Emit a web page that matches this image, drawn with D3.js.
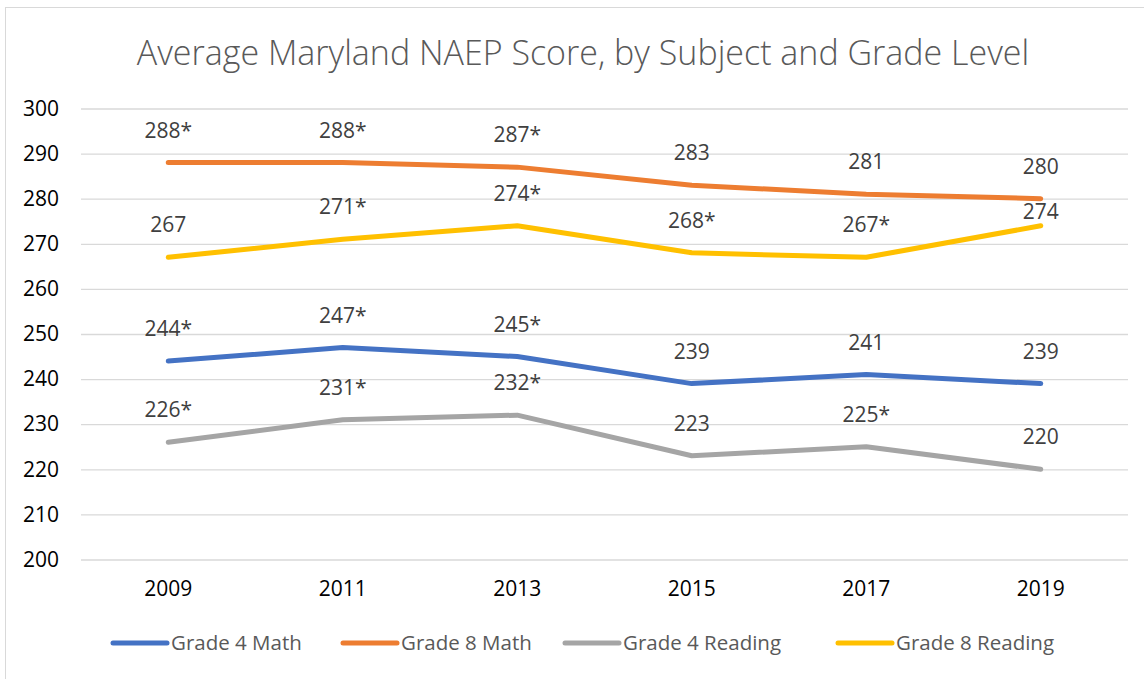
<!DOCTYPE html>
<html>
<head>
<meta charset="utf-8">
<script src="https://cdn.jsdelivr.net/npm/d3@7"></script>
<style>
  body { margin: 0; background: #fff; }
  svg { display: block; font-family: 'Open Sans', sans-serif; }
</style>
</head>
<body>
<svg id="chart" width="1144" height="679"></svg>
<script>
// data
const years = ['2009', '2011', '2013', '2015', '2017', '2019']
const yTicks = [200, 210, 220, 230, 240, 250, 260, 270, 280, 290, 300]

const grade4Math = [244, 247, 245, 239, 241, 239]
const grade8Math = [288, 288, 287, 283, 281, 280]
const grade4Reading = [226, 231, 232, 223, 225, 220]
const grade8Reading = [267, 271, 274, 268, 267, 274]

// the asterisk marks on the data labels
const grade4MathStar = [true, true, true, false, false, false]
const grade8MathStar = [true, true, true, false, false, false]
const grade4ReadingStar = [true, true, true, false, true, false]
const grade8ReadingStar = [false, true, true, true, true, false]

const series = [
  { name: 'Grade 4 Math', values: grade4Math, stars: grade4MathStar, color: '#4472C4' },
  { name: 'Grade 8 Math', values: grade8Math, stars: grade8MathStar, color: '#ED7D31' },
  { name: 'Grade 4 Reading', values: grade4Reading, stars: grade4ReadingStar, color: '#A5A5A5' },
  { name: 'Grade 8 Reading', values: grade8Reading, stars: grade8ReadingStar, color: '#FFC000' }
]

const svg = d3.select('#chart')

// chart border (the picture is cropped on the right)
svg.append('rect')
   .attr('x', 5.5).attr('y', 7.5)
   .attr('width', 1200).attr('height', 700)
   .attr('fill', 'none')
   .attr('stroke', '#D9D9D9')

svg.append('text')
   .attr('x', 583)
   .attr('y', 65)
   .attr('text-anchor', 'middle')
   .attr('fill', '#595959')
   .style('font-size', '34px')
   .style('font-weight', 300)
   .text('Average Maryland NAEP Score, by Subject and Grade Level')

const plot = { left: 81, right: 1128, top: 108.5, bottom: 559.5 }

const x = d3.scaleBand()
            .domain(years)
            .range([plot.left, plot.right])

const y = d3.scaleLinear()
            .domain([200, 300])
            .range([plot.bottom, plot.top])

// gridlines + y labels
const yAxis = d3.axisLeft(y)
                .tickValues(yTicks)
                .tickSize(-(plot.right - plot.left))
                .tickPadding(22)

svg.append('g')
   .attr('transform', `translate(${plot.left},0)`)
   .call(yAxis)
   .call(g => g.select('.domain').remove())
   .call(g => g.selectAll('line').attr('stroke', '#D9D9D9').attr('stroke-width', 1.3))
   .call(g => g.selectAll('text')
               .attr('fill', '#000')
               .style('font-size', '21px')
               .style('font-family', "'Open Sans', sans-serif"))

const xAxis = d3.axisBottom(x).tickSize(0).tickPadding(22)

svg.append('g')
   .attr('transform', `translate(0,${plot.bottom})`)
   .call(xAxis)
   .call(g => g.select('.domain').remove())
   .call(g => g.selectAll('text')
               .attr('fill', '#000')
               .style('font-size', '21px')
               .style('font-family', "'Open Sans', sans-serif"))

const xCenter = yr => x(yr) + x.bandwidth() / 2

const line = d3.line()
               .x((d, i) => xCenter(years[i]))
               .y(d => y(d))

svg.append('g')
   .selectAll('path')
   .data(series)
   .enter()
   .append('path')
   .attr('d', s => line(s.values))
   .attr('fill', 'none')
   .attr('stroke', s => s.color)
   .attr('stroke-width', 5)
   .attr('stroke-linecap', 'round')
   .attr('stroke-linejoin', 'round')

// data labels sit above each point; the last Grade 8 Reading one was pushed
// down in the original so it doesn't collide with the 280 label
const labelGap = (s, i) => (s.name === 'Grade 8 Reading' && i === years.length - 1) ? 7 : 25

const labels = svg.append('g')
   .selectAll('g')
   .data(series)
   .enter()
   .append('g')

labels.selectAll('text')
      .data(s => s.values.map((v, i) => ({ s, v, i })))
      .enter()
      .append('text')
      .attr('x', d => xCenter(years[d.i]))
      .attr('y', d => y(d.v) - labelGap(d.s, d.i))
      .attr('text-anchor', 'middle')
      .attr('fill', '#404040')
      .style('font-size', '21px')
      .text(d => d.v + (d.s.stars[d.i] ? '*' : ''))

// legend
const legendStart = [113, 343, 565, 838]
const legend = svg.append('g')
   .selectAll('g')
   .data(series)
   .enter()
   .append('g')
   .attr('transform', (s, i) => `translate(${legendStart[i]},643)`)

legend.append('line')
      .attr('x1', 0).attr('x2', 54)
      .attr('stroke', s => s.color)
      .attr('stroke-width', 5)
      .attr('stroke-linecap', 'round')

legend.append('text')
      .attr('x', 58)
      .attr('y', 7)
      .attr('fill', '#595959')
      .style('font-size', '20.5px')
      .text(s => s.name)
</script>
</body>
</html>
